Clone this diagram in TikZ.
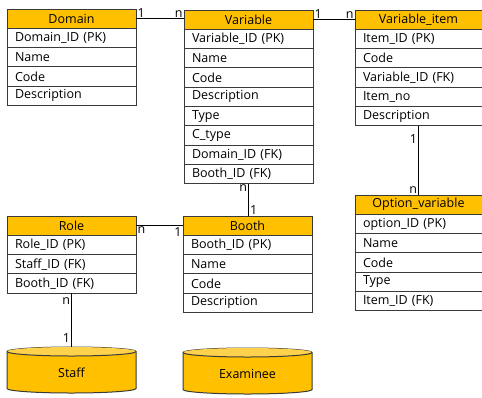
\documentclass[tikz,border=0pt]{standalone}
\usepackage{fontspec}
\setmainfont{Open Sans}
\definecolor{gold}{HTML}{FFC000}
\definecolor{goldlight}{HTML}{FFD24D}
\definecolor{bordergray}{HTML}{3A3A3A}
\begin{document}
\begin{tikzpicture}[x=1pt,y=-1pt,
  txt/.style={font=\fontsize{12.5}{14}\selectfont},
  box/.style={txt, draw=bordergray, line width=1pt, minimum width=129pt, minimum height=19.3pt,
    inner ysep=0pt, outer sep=0pt},
  hdr/.style={box, fill=gold, inner xsep=0pt},
  fld/.style={box, fill=white, inner xsep=8pt, text width=113pt, align=left},
  narrow/.style={minimum width=127pt},
  narrowfld/.style={minimum width=127pt, text width=111pt},
  link/.style={draw=black, line width=1pt},
  lbl/.style={txt, inner sep=1pt},
  cyl/.style={fill=gold, draw=bordergray, line width=1pt},
  cylnode/.style={txt, minimum width=129pt, minimum height=46pt, inner sep=0pt, outer sep=0pt}
]
\useasboundingbox (0,0) rectangle (482,397);

% Domain
\node[hdr, anchor=north west] (dom) at (7,9) {Domain};
\node[fld, anchor=north] (dom1) at (dom.south) {Domain\_ID (PK)};
\node[fld, anchor=north] (dom2) at (dom1.south) {Name};
\node[fld, anchor=north] (dom3) at (dom2.south) {Code};
\node[fld, anchor=north] (dom4) at (dom3.south) {Description};

% Variable
\node[hdr, anchor=north west] (var) at (184,10) {Variable};
\node[fld, anchor=north] (var1) at (var.south) {Variable\_ID (PK)};
\node[fld, anchor=north] (var2) at (var1.south) {Name};
\node[fld, anchor=north] (var3) at (var2.south) {Code};
\node[fld, anchor=north] (var4) at (var3.south) {Description};
\node[fld, anchor=north] (var5) at (var4.south) {Type};
\node[fld, anchor=north] (var6) at (var5.south) {C\_type};
\node[fld, anchor=north] (var7) at (var6.south) {Domain\_ID (FK)};
\node[fld, anchor=north] (var8) at (var7.south) {Booth\_ID (FK)};

% Variable_item
\node[hdr, narrow, anchor=north west] (vi) at (355,10) {Variable\_item};
\node[fld, narrowfld, anchor=north] (vi1) at (vi.south) {Item\_ID (PK)};
\node[fld, narrowfld, anchor=north] (vi2) at (vi1.south) {Code};
\node[fld, narrowfld, anchor=north] (vi3) at (vi2.south) {Variable\_ID (FK)};
\node[fld, narrowfld, anchor=north] (vi4) at (vi3.south) {Item\_no};
\node[fld, narrowfld, anchor=north] (vi5) at (vi4.south) {Description};

% Option_variable
\node[hdr, narrow, anchor=north west] (ov) at (355,195) {Option\_variable};
\node[fld, narrowfld, anchor=north] (ov1) at (ov.south) {option\_ID (PK)};
\node[fld, narrowfld, anchor=north] (ov2) at (ov1.south) {Name};
\node[fld, narrowfld, anchor=north] (ov3) at (ov2.south) {Code};
\node[fld, narrowfld, anchor=north] (ov4) at (ov3.south) {Type};
\node[fld, narrowfld, anchor=north] (ov5) at (ov4.south) {Item\_ID (FK)};

% Role
\node[hdr, anchor=north west] (role) at (7,216) {Role};
\node[fld, anchor=north] (role1) at (role.south) {Role\_ID (PK)};
\node[fld, anchor=north] (role2) at (role1.south) {Staff\_ID (FK)};
\node[fld, anchor=north] (role3) at (role2.south) {Booth\_ID (FK)};

% Booth
\node[hdr, anchor=north west] (booth) at (183,216) {Booth};
\node[fld, anchor=north] (booth1) at (booth.south) {Booth\_ID (PK)};
\node[fld, anchor=north] (booth2) at (booth1.south) {Name};
\node[fld, anchor=north] (booth3) at (booth2.south) {Code};
\node[fld, anchor=north] (booth4) at (booth3.south) {Description};

% Cylinders
\foreach \c/\x/\y in {staff/7/347, exam/183/348}{
  \path (\x,\y) coordinate (\c nw) +(129,46) coordinate (\c se);
  \path[cyl] ([yshift=-4.5pt]\c nw) -- ([yshift=4.5pt]\c nw |- \c se)
    arc[start angle=180,end angle=360,x radius=64.5pt,y radius=4.5pt]
    -- ([yshift=-4.5pt]\c se |- \c nw)
    arc[start angle=0,end angle=180,x radius=64.5pt,y radius=4.5pt] -- cycle;
  \fill[goldlight] ([yshift=-4.5pt]\c nw) arc[start angle=180,end angle=360,x radius=64.5pt,y radius=4.5pt]
    arc[start angle=0,end angle=180,x radius=64.5pt,y radius=4.5pt];
  \draw[draw=bordergray, line width=1pt] ([yshift=-4.5pt]\c nw) arc[start angle=180,end angle=360,x radius=64.5pt,y radius=4.5pt];
}
\node[cylnode, anchor=north west, yshift=-3pt] (staff) at (7,347) {Staff};
\node[cylnode, anchor=north west, yshift=-3pt] (exam) at (183,348) {Examinee};
\coordinate (stafftop) at (71.5,347);

% Connectors
\draw[link] (dom.east) -- (var.west |- dom.east)
  node[lbl, pos=0, above right] {1} node[lbl, pos=1, above left] {n};
\draw[link] (var.east) -- (vi.west |- var.east)
  node[lbl, pos=0, above right] {1} node[lbl, pos=1, above left] {n};
\draw[link] (vi5.south) -- (vi5.south |- ov.north)
  node[lbl, pos=0, below left, yshift=-7pt] {1} node[lbl, pos=1, above left] {n};
\draw[link] (var8.south) -- (var8.south |- booth.north)
  node[lbl, pos=0, below left, yshift=1pt] {n} node[lbl, pos=1, above right] {1};
\draw[link] (role.east) -- (booth.west |- role.east)
  node[lbl, pos=0, below right] {n} node[lbl, pos=1, below left] {1};
\draw[link] (role3.south) -- (stafftop)
  node[lbl, pos=0, below left, yshift=-3pt] {n} node[lbl, pos=1, above left, yshift=3pt] {1};
\end{tikzpicture}
\end{document}
